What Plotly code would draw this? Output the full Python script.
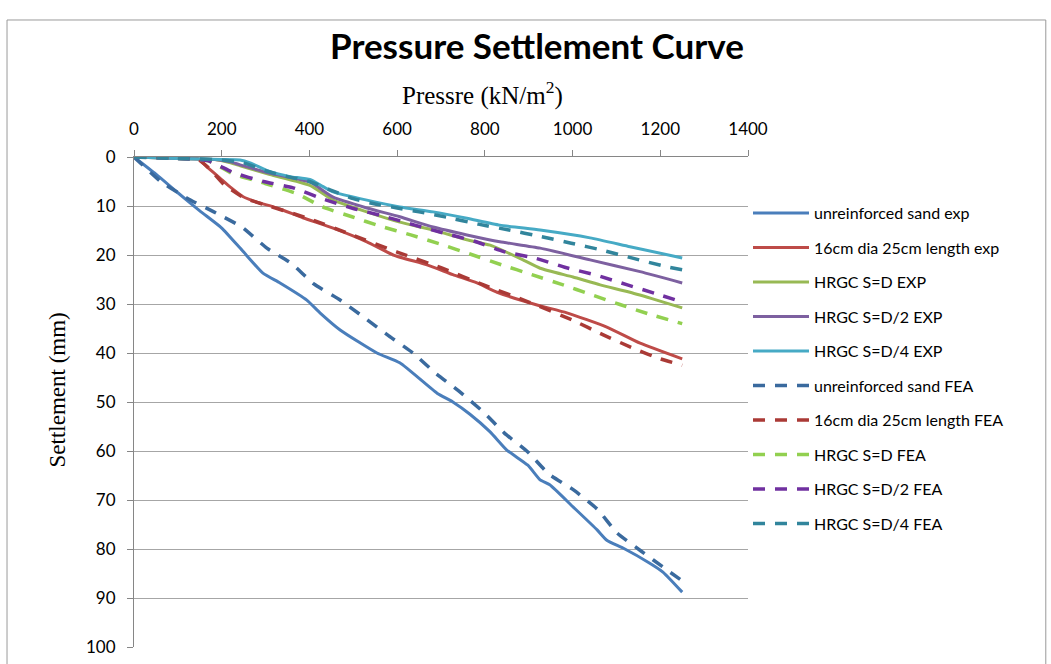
import plotly.graph_objects as go

# ---------------- data ----------------
unreinf_exp_p = [0, 50, 100, 150, 200, 246, 294, 333, 394, 424, 470, 554, 606, 691, 727, 766, 812, 850, 898, 926, 948, 1001, 1056, 1078, 1115, 1176, 1206, 1250]
unreinf_exp_s = [0, 3.5, 7.3, 11, 14.5, 19, 23.7, 25.7, 29.2, 31.8, 35.3, 40, 42, 48.2, 50, 52.5, 56.1, 59.8, 62.9, 65.9, 66.9, 71.4, 76.1, 78.2, 79.8, 82.9, 84.7, 88.8]

col16_exp_p = [0, 100, 143, 166, 196, 219, 249, 280, 326, 385, 454, 531, 591, 668, 727, 782, 828, 919, 987, 1078, 1154, 1250]
col16_exp_s = [0, 0, 0.2, 2, 4.3, 6.1, 8.1, 9.2, 10.4, 12.4, 14.5, 17.3, 20, 22, 24, 25.7, 27.6, 30.2, 31.8, 34.7, 38, 41.2]

sd_exp_p = [0, 100, 185, 220, 242, 310, 401, 454, 531, 606, 682, 759, 812, 887, 926, 1001, 1063, 1131, 1192, 1250]
sd_exp_s = [0, 0.3, 0.5, 1.2, 1.8, 3.6, 5.8, 8.8, 11.2, 13.3, 14.9, 16.9, 18, 21, 22.7, 24.5, 26.1, 27.6, 29.2, 30.8]

sd2_exp_p = [0, 100, 185, 220, 242, 310, 401, 454, 531, 606, 682, 759, 834, 926, 1040, 1154, 1250]
sd2_exp_s = [0, 0.3, 0.5, 1, 1.6, 3.3, 5.1, 8.2, 10.4, 12.2, 14.3, 15.9, 17.3, 18.6, 21, 23.4, 25.7]

sd4_exp_p = [0, 100, 200, 242, 265, 310, 356, 401, 430, 454, 531, 606, 682, 759, 834, 926, 1040, 1131, 1250]
sd4_exp_s = [0, 0.3, 0.5, 0.6, 1.2, 3, 4, 4.6, 6, 7.1, 8.8, 10.2, 11.2, 12.5, 13.9, 14.9, 16.5, 18.3, 20.6]

unreinf_fea_p = [0, 61, 121, 182, 246, 303, 360, 410, 470, 524, 581, 636, 686, 741, 796, 844, 898, 946, 1003, 1058, 1101, 1156, 1211, 1250]
unreinf_fea_s = [0, 5, 8.4, 11.2, 14.3, 18.6, 21.8, 25.9, 29.2, 32.7, 36.5, 40, 44, 47.8, 52, 56.3, 60.2, 64.7, 68, 72, 76.7, 80.4, 84, 86.5]

col16_fea_p = [0, 100, 143, 170, 205, 250, 300, 400, 500, 600, 700, 800, 900, 1000, 1070, 1140, 1200, 1250]
col16_fea_s = [0, 0, 0.3, 2.2, 5.6, 8.3, 9.8, 12.6, 16, 19.4, 22.6, 26.2, 29.6, 33.3, 36.3, 39.1, 41.2, 42.5]

sd_fea_p = [0, 100, 170, 227, 299, 372, 430, 497, 561, 631, 699, 766, 838, 907, 975, 1043, 1108, 1176, 1250]
sd_fea_s = [0, 0.3, 0.8, 3.5, 5.4, 7.5, 10.2, 12.2, 14.1, 15.9, 17.8, 19.8, 22, 24, 26, 28.1, 30.1, 32.1, 34]

sd2_fea_p = [0, 100, 170, 227, 295, 363, 432, 500, 570, 640, 709, 777, 843, 917, 982, 1057, 1125, 1194, 1250]
sd2_fea_s = [0, 0.3, 0.8, 3.2, 5, 6.3, 8.6, 10.5, 12.1, 13.9, 15.6, 17.2, 19.3, 20.7, 22.5, 24.2, 26.1, 28, 29.6]

sd4_fea_p = [0, 100, 200, 250, 300, 350, 400, 450, 500, 550, 600, 650, 713, 785, 855, 926, 997, 1067, 1139, 1210, 1250]
sd4_fea_s = [0, 0.3, 0.6, 1.2, 2.8, 4, 5, 6.8, 8.5, 9.6, 10.4, 11.2, 12.3, 13.7, 14.9, 16.2, 17.6, 19, 20.7, 22.3, 23]

series = [
    ("unreinforced sand exp", unreinf_exp_p, unreinf_exp_s, "#4A7EBB", "solid"),
    ("16cm dia 25cm length exp", col16_exp_p, col16_exp_s, "#BE4B48", "solid"),
    ("HRGC S=D EXP", sd_exp_p, sd_exp_s, "#98B954", "solid"),
    ("HRGC S=D/2 EXP", sd2_exp_p, sd2_exp_s, "#7D60A0", "solid"),
    ("HRGC S=D/4 EXP", sd4_exp_p, sd4_exp_s, "#46AAC5", "solid"),
    ("unreinforced sand FEA", unreinf_fea_p, unreinf_fea_s, "#3A6A9E", "12px,10px"),
    ("16cm dia 25cm length FEA", col16_fea_p, col16_fea_s, "#AA3A36", "12px,10px"),
    ("HRGC S=D FEA", sd_fea_p, sd_fea_s, "#92D050", "12px,10px"),
    ("HRGC S=D/2 FEA", sd2_fea_p, sd2_fea_s, "#7030A0", "12px,10px"),
    ("HRGC S=D/4 FEA", sd4_fea_p, sd4_fea_s, "#31859C", "12px,10px"),
]

fig = go.Figure()
for i, (name, p, s, c, d) in enumerate(series):
    fig.add_trace(go.Scatter(
        x=p, y=s, mode="lines", name=name, legendgroup=str(i),
        line=dict(color=c, width=3 if d == "solid" else 3.5, dash=d,
                  shape="spline", smoothing=0.5),
    ))

axis_col = "#868686"
fig.update_layout(
    width=1051, height=664,
    margin=dict(l=134, r=303, t=157, b=17, autoexpand=False),
    paper_bgcolor="white", plot_bgcolor="white",
    showlegend=True,
    legend=dict(x=1.0, y=0.92, xanchor="left", yanchor="top",
                font=dict(family="Lato, sans-serif", size=16, color="#000"),
                tracegroupgap=10.7, bgcolor="rgba(0,0,0,0)", itemwidth=56),
    xaxis=dict(side="top", range=[0, 1400], dtick=200, tick0=0, automargin=False,
               showgrid=False, zeroline=False, showline=True, linecolor=axis_col, linewidth=1,
               ticks="outside", ticklen=6, tickcolor=axis_col, ticklabelstandoff=8,
               tickfont=dict(family="Lato, sans-serif", size=17, color="#000")),
    yaxis=dict(autorange=False, range=[100, 0], dtick=10, tick0=0, automargin=False,
               showgrid=True, gridcolor="#A6A6A6", gridwidth=1.3,
               zeroline=False, showline=True, linecolor=axis_col, linewidth=1,
               ticks="outside", ticklen=6, tickcolor=axis_col, ticklabelstandoff=8,
               tickfont=dict(family="Lato, sans-serif", size=17, color="#000")),
    annotations=[
        dict(text="<b>Pressure Settlement Curve</b>", xref="paper", yref="paper",
             x=0.656, y=1.228, xanchor="center", yanchor="middle", showarrow=False,
             font=dict(family="Lato, sans-serif", size=35, color="#000")),
        dict(text="Pressre (kN/m<sup>2</sup>)", xref="paper", yref="paper",
             x=0.568, y=1.13, xanchor="center", yanchor="middle", showarrow=False,
             font=dict(family="Liberation Serif, serif", size=25, color="#000")),
        dict(text="Settlement (mm)", xref="paper", yref="paper", textangle=-90,
             x=-0.123, y=0.5245, xanchor="center", yanchor="middle", showarrow=False,
             font=dict(family="Liberation Serif, serif", size=23, color="#000")),
    ],
    shapes=[
        dict(type="rect", xref="paper", yref="paper", x0=-0.2068, x1=1.485, y0=-0.2, y1=1.2796,
             line=dict(color="#9A9A9A", width=1), layer="below"),
    ],
)

fig.write_html("out.html", post_script="document.body.style.margin='0';",
               config={"displayModeBar": False})
